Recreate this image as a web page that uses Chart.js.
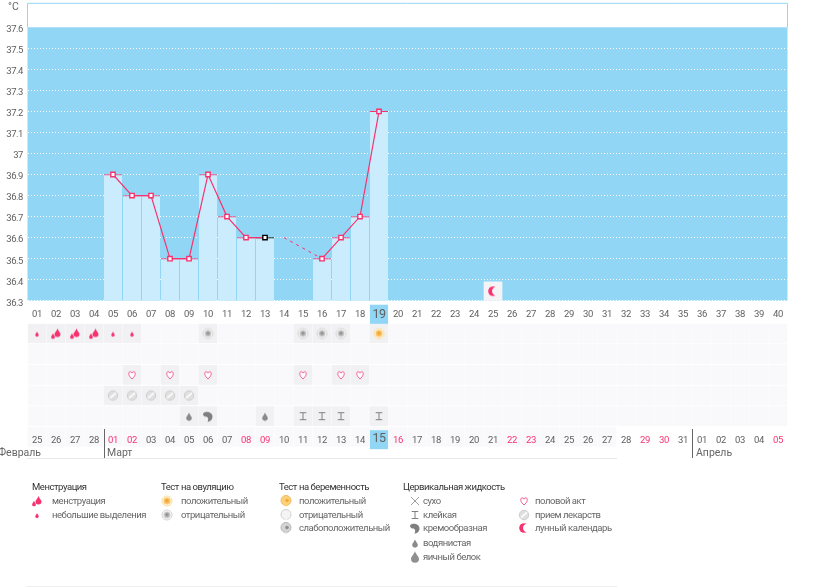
<!DOCTYPE html>
<html lang="ru">
<head>
<meta charset="utf-8">
<title>График температуры</title>
<script src="https://cdn.jsdelivr.net/npm/chart.js@4"></script>
<style>
  html, body { margin: 0; padding: 0; background: #fff; width: 825px; height: 587px; overflow: hidden; }
  body { position: relative; font: 9.5px Roboto, Arial, sans-serif; letter-spacing: -0.45px; color: #666; }
  .box { position: absolute; left: 0; width: 825px; }
  .box canvas { display: block; }
  canvas.ic { position: absolute; }
  .t { position: absolute; white-space: nowrap; line-height: 12px; }
  .h { color: #333; }
  .m { font-size: 10.5px; letter-spacing: 0; line-height: 14px; color: #666; }
  .r { position: absolute; }
</style>
</head>
<body>
<div class="box" style="top:0;height:325px"><canvas id="tempChart" width="825" height="325"></canvas></div>
<div class="box" style="top:320px;height:140px"><canvas id="rowsChart" width="825" height="140"></canvas></div>
<script>
(() => {
  const cycleDays = ["01","02","03","04","05","06","07","08","09","10","11","12","13","14","15","16","17","18","19","20",
    "21","22","23","24","25","26","27","28","29","30","31","32","33","34","35","36","37","38","39","40"];
  const calendarDays = ["25","26","27","28","01","02","03","04","05","06","07","08","09","10","11","12","13","14","15","16",
    "17","18","19","20","21","22","23","24","25","26","27","28","29","30","31","01","02","03","04","05"];
  const weekendColumns = [5, 6, 12, 13, 20, 26, 27, 33, 34, 40];
  const todayColumn = 19;
  const tempTicks = [36.3,36.4,36.5,36.6,36.7,36.8,36.9,37,37.1,37.2,37.3,37.4,37.5,37.6];
  const temperatures = [null,null,null,null,36.9,36.8,36.8,36.5,36.5,36.9,36.7,36.6,36.6,null,null,36.5,36.6,36.7,37.2,null,
    null,null,null,null,null,null,null,null,null,null,null,null,null,null,null,null,null,null,null,null];
  const guessedTemps = [null,null,null,null,null,null,null,null,null,null,null,null,null,36.6,null,36.5];
  const moonCell = [null,null,null,null,null,null,null,null,null,null,null,null,null,null,null,null,null,null,null,null,
    null,null,null,null,36.39];
  const moonMark = [null,null,null,null,null,null,null,null,null,null,null,null,null,null,null,null,null,null,null,null,
    null,null,null,null,36.345];

  const heavyDays = [2, 3, 4];
  const lightDays = [1, 5, 6];
  const ovulationNegDays = [10, 15, 16, 17];
  const ovulationPosDays = [19];
  const intercourseDays = [6, 8, 10, 15, 17, 18];
  const pillDays = [5, 6, 7, 8, 9];
  const wateryDays = [9, 13];
  const creamyDays = [10];
  const stickyDays = [15, 16, 17, 19];

  const PINK = "#f7336f";
  const BLUE = "#91d7f5";
  const BAR = "#cbecfd";
  const FONT = 'Roboto, Arial, sans-serif';

  function drop(c, x, y, r, color) {
    c.fillStyle = color;
    c.beginPath();
    c.moveTo(x, y - r * 1.7);
    c.bezierCurveTo(x + r * 0.4, y - r * 0.7, x + r, y - r * 0.3, x + r, y + r * 0.2);
    c.arc(x, y + r * 0.2, r, 0, Math.PI);
    c.bezierCurveTo(x - r, y - r * 0.3, x - r * 0.4, y - r * 0.7, x, y - r * 1.7);
    c.fill();
  }

  function ring(c, light, outer, center) {
    const g = c.createRadialGradient(8, 7.6, 0.5, 8, 8, 3.8);
    g.addColorStop(0, center);
    g.addColorStop(1, light);
    c.fillStyle = "#fff";
    c.strokeStyle = outer;
    c.lineWidth = 1;
    c.beginPath(); c.arc(8, 8, 5, 0, 7); c.fill(); c.stroke();
    c.fillStyle = g;
    c.beginPath(); c.arc(8, 8, 3.8, 0, 7); c.fill();
  }

  function blob(c, fill, edge, center) {
    c.fillStyle = fill;
    c.strokeStyle = edge;
    c.lineWidth = 1;
    c.beginPath();
    c.arc(8, 7.5, 5, 0, 7);
    c.fill(); c.stroke();
    c.beginPath(); c.moveTo(6, 11.5); c.lineTo(8, 14); c.lineTo(10, 11.5); c.fill();
    if (center) {
      c.fillStyle = center;
      c.beginPath(); c.arc(9, 7.5, 1.8, 0, 7); c.fill();
    }
  }

  const ICONS = {
    heavy(c) { drop(c, 9.5, 8, 3, PINK); drop(c, 5, 11, 1.9, PINK); },
    light(c) { drop(c, 8, 9, 1.8, PINK); },
    ovPos(c) { ring(c, "#fbd98e", "#f8dc98", "#f3a02e"); },
    ovNeg(c) { ring(c, "#e4e4e4", "#d2d2d2", "#8f8f8f"); },
    heart(c) {
      c.strokeStyle = "#f4548a"; c.fillStyle = "#fff"; c.lineWidth = 1;
      c.beginPath();
      c.moveTo(8, 12);
      c.bezierCurveTo(3.6, 8.6, 4.4, 4.6, 6.3, 4.8);
      c.bezierCurveTo(7, 4.9, 7.6, 5.4, 8, 6.2);
      c.bezierCurveTo(8.4, 5.4, 9, 4.9, 9.7, 4.8);
      c.bezierCurveTo(11.6, 4.6, 12.4, 8.6, 8, 12);
      c.fill(); c.stroke();
    },
    pill(c) {
      c.fillStyle = "#e0e0e0"; c.strokeStyle = "#cccccc"; c.lineWidth = 1;
      c.beginPath(); c.arc(8, 8, 4.7, 0, 7); c.fill(); c.stroke();
      c.strokeStyle = "#fff"; c.lineWidth = 1.4;
      c.beginPath(); c.moveTo(5, 10.6); c.lineTo(11, 5.4); c.stroke();
    },
    watery(c) { drop(c, 8, 9.3, 2.8, "#8a8a8a"); },
    egg(c) { drop(c, 8, 9, 4, "#8f8f8f"); },
    creamy(c) {
      c.fillStyle = "#7f7f7f";
      c.beginPath();
      c.moveTo(3, 5.5);
      c.bezierCurveTo(4.5, 2.6, 12.5, 3, 12.5, 8.5);
      c.bezierCurveTo(12.5, 11.5, 10, 13.5, 7.5, 13.5);
      c.bezierCurveTo(8.6, 11.5, 8.4, 9.6, 6.8, 8.6);
      c.bezierCurveTo(4.8, 8.8, 2.8, 7.6, 3, 5.5);
      c.fill();
    },
    sticky(c) {
      c.strokeStyle = "#808080"; c.lineWidth = 1;
      c.beginPath();
      c.moveTo(4.7, 4.5); c.lineTo(11.3, 4.5);
      c.moveTo(8, 4.5); c.lineTo(8, 11.5);
      c.moveTo(4.7, 11.5); c.lineTo(11.3, 11.5);
      c.stroke();
    },
    dry(c) {
      c.strokeStyle = "#888"; c.lineWidth = 0.8;
      c.beginPath();
      c.moveTo(4, 4); c.lineTo(12, 12);
      c.moveTo(12, 4); c.lineTo(4, 12);
      c.stroke();
    },
    moon(c) {
      c.fillStyle = PINK;
      c.beginPath(); c.arc(8, 8, 4.8, 0, 7); c.fill();
      c.globalCompositeOperation = "destination-out";
      c.beginPath(); c.arc(11.2, 8, 4.2, 0, 7); c.fill();
      c.globalCompositeOperation = "source-over";
    },
    pregPos(c) { blob(c, "#fbd27a", "#f3b95c", "#f4a93a"); },
    pregNeg(c) { blob(c, "#f4f4f4", "#cfcfcf"); },
    pregWeak(c) { blob(c, "#d4d4d4", "#b5b5b5", "#8f8f8f"); }
  };

  function icon(name) {
    const cv = document.createElement("canvas");
    cv.width = 16;
    cv.height = 16;
    ICONS[name](cv.getContext("2d"));
    return cv;
  }

  const tempFrame = {
    id: "tempFrame",
    beforeDraw(chart) {
      const { ctx, chartArea: a, scales } = chart;
      const y = scales.y.getPixelForValue(37.6);
      ctx.save();
      ctx.fillStyle = BLUE;
      ctx.fillRect(a.left, y, a.width, a.bottom - y);
      ctx.strokeStyle = BLUE;
      ctx.lineWidth = 1;
      ctx.beginPath();
      ctx.moveTo(a.left, y);
      ctx.lineTo(a.left, a.top);
      ctx.lineTo(a.right, a.top);
      ctx.lineTo(a.right, y);
      ctx.stroke();
      ctx.restore();
    }
  };

  const todayIndex = todayColumn - 1;

  function noScalePadding(s) {
    s.paddingTop = 0;
    s.paddingBottom = 0;
    s.paddingLeft = 0;
    s.paddingRight = 0;
  }

  new Chart(document.getElementById("tempChart"), {
    type: "bar",
    data: {
      labels: cycleDays,
      datasets: [
        {
          type: "line",
          data: temperatures,
          order: 0,
          borderColor: PINK,
          borderWidth: 1.2,
          tension: 0,
          pointStyle: "rect",
          pointRadius: 3.1,
          pointBorderWidth: 1.4,
          pointBackgroundColor: temperatures.map((v, i) => (i === todayIndex ? BAR : "#fff")),
          pointBorderColor: temperatures.map((v, i) => (i === 12 ? "#000" : PINK))
        },
        {
          type: "line",
          data: guessedTemps,
          order: 0,
          spanGaps: true,
          borderColor: PINK,
          borderWidth: 1,
          borderDash: [3, 4],
          pointRadius: 0
        },
        {
          type: "line",
          data: moonMark,
          order: 0,
          showLine: false,
          pointStyle: icon("moon")
        },
        {
          data: temperatures,
          order: 1,
          grouped: false,
          barThickness: 18,
          backgroundColor: BAR,
          borderWidth: { top: 1 },
          borderColor: temperatures.map((v, i) => (i === 12 ? "#000" : PINK))
        },
        {
          data: moonCell,
          order: 2,
          grouped: false,
          barThickness: 18,
          backgroundColor: "#f4f4f7"
        }
      ]
    },
    options: {
      responsive: false,
      animation: false,
      events: [],
      layout: { autoPadding: false, padding: { left: 0, right: 37.5, top: 3.3, bottom: 0 } },
      plugins: { legend: { display: false }, tooltip: { enabled: false } },
      scales: {
        x: {
          offset: true,
          grid: { display: false },
          border: { display: false },
          afterFit(s) { s.height = 24.3; noScalePadding(s); },
          ticks: {
            autoSkip: false,
            maxRotation: 0,
            padding: 0,
            color: "#5f5f5f",
            font: (c) => (c.index === todayIndex
              ? { family: FONT, size: 12.5, lineHeight: "12px" }
              : { family: FONT, size: 9.5, lineHeight: "12px" }),
            showLabelBackdrop: (c) => c.index === todayIndex,
            backdropColor: BLUE,
            backdropPadding: { top: 4, bottom: 4, left: 2.5, right: 2.5 }
          }
        },
        y: {
          min: 36.3,
          max: 37.714,
          afterFit(s) { s.width = 27.5; noScalePadding(s); },
          afterBuildTicks(s) { s.ticks = tempTicks.map((value) => ({ value })); },
          grid: {
            drawTicks: false,
            lineWidth: 1,
            color: (c) => (c.tick && c.tick.value === 37.6 ? "transparent" : "#ffffff")
          },
          border: { display: false, dash: [1, 2] },
          ticks: {
            padding: 4.5,
            labelOffset: 2.5,
            color: "#5f5f5f",
            font: { family: FONT, size: 9.5 },
            callback: (v) => String(v)
          }
        }
      }
    },
    plugins: [tempFrame]
  });

  const ROWS = 5;
  const rowOf = (days, row) => cycleDays.map((d, i) => (days.includes(i + 1) ? row - 0.5 : null));

  const markSets = [
    { days: heavyDays, row: 1, name: "heavy" },
    { days: lightDays, row: 1, name: "light" },
    { days: ovulationNegDays, row: 1, name: "ovNeg" },
    { days: ovulationPosDays, row: 1, name: "ovPos" },
    { days: intercourseDays, row: 3, name: "heart" },
    { days: pillDays, row: 4, name: "pill" },
    { days: wateryDays, row: 5, name: "watery" },
    { days: creamyDays, row: 5, name: "creamy" },
    { days: stickyDays, row: 5, name: "sticky" }
  ];

  const usedInRow = (row, i) => markSets.some((m) => m.row === row && m.days.includes(i + 1));

  const cellSets = [1, 2, 3, 4, 5].map((row) => ({
    data: cycleDays.map(() => [row - 1 + 0.04, row - 0.04]),
    order: 1,
    grouped: false,
    barThickness: 18,
    backgroundColor: cycleDays.map((d, i) => (usedInRow(row, i) ? "#f1f1f3" : "#f9f8fa"))
  }));

  cellSets.push({
    data: cycleDays.map((d, i) => (i < 31 ? [5.04, 5.96] : null)),
    order: 1,
    grouped: false,
    clip: false,
    barThickness: 18,
    backgroundColor: "#f9f8fa"
  });

  new Chart(document.getElementById("rowsChart"), {
    type: "bar",
    data: {
      labels: calendarDays,
      datasets: cellSets.concat(markSets.map((m) => ({
        type: "line",
        data: rowOf(m.days, m.row),
        order: 0,
        showLine: false,
        pointStyle: icon(m.name)
      })))
    },
    options: {
      responsive: false,
      animation: false,
      events: [],
      layout: { autoPadding: false, padding: { left: 27.5, right: 37.5, top: 3.2, bottom: 0 } },
      plugins: { legend: { display: false }, tooltip: { enabled: false } },
      scales: {
        x: {
          offset: true,
          grid: { display: false },
          border: { display: false },
          afterFit(s) { s.height = 33.5; noScalePadding(s); },
          ticks: {
            autoSkip: false,
            maxRotation: 0,
            padding: 0,
            z: 2,
            color: (c) => (weekendColumns.includes(c.index + 1) ? PINK : "#5f5f5f"),
            font: (c) => (c.index === todayIndex
              ? { family: FONT, size: 12.5, lineHeight: "8.8px" }
              : { family: FONT, size: 9.5, lineHeight: "12px" }),
            showLabelBackdrop: (c) => c.index === todayIndex,
            backdropColor: BLUE,
            backdropPadding: { top: 4.3, bottom: 5.9, left: 2.5, right: 2.5 }
          }
        },
        y: { display: false, reverse: true, min: 0, max: ROWS }
      }
    }
  });

  // legend and month captions are plain page text
  const monthLabels = [["Февраль", -2], ["Март", 107], ["Апрель", 696]];
  const monthRules = [103.5, 692];
  const legendTitles = [["Менструация", 32], ["Тест на овуляцию", 161], ["Тест на беременность", 279], ["Цервикальная жидкость", 403]];
  const legendRows = [
    ["heavy", 37, 52, 501, "менструация"],
    ["light", 37, 52, 515, "небольшие выделения"],
    ["ovPos", 167, 181, 501, "положительный"],
    ["ovNeg", 167, 181, 515, "отрицательный"],
    ["pregPos", 286, 299, 501, "положительный"],
    ["pregNeg", 286, 299, 515, "отрицательный"],
    ["pregWeak", 286, 299, 528, "слабоположительный"],
    ["dry", 415, 423, 501, "сухо"],
    ["sticky", 415, 423, 515, "клейкая"],
    ["creamy", 415, 423, 528, "кремообразная"],
    ["watery", 415, 423, 543, "водянистая"],
    ["egg", 415, 423, 557, "яичный белок"],
    ["heart", 524, 535, 501, "половой акт"],
    ["pill", 524, 535, 515, "прием лекарств"],
    ["moon", 524, 535, 528, "лунный календарь"]
  ];

  function addText(text, x, y, cls) {
    const el = document.createElement("div");
    el.className = cls;
    el.textContent = text;
    el.style.left = x + "px";
    el.style.top = y + "px";
    document.body.appendChild(el);
  }

  function addRule(x, y, w, h, color) {
    const el = document.createElement("div");
    el.className = "r";
    el.style.cssText = `left:${x}px;top:${y}px;width:${w}px;height:${h}px;background:${color}`;
    document.body.appendChild(el);
  }

  addText("°C", 8, 0, "t m");
  monthLabels.forEach(([text, x]) => addText(text, x, 446, "t m"));
  monthRules.forEach((x) => addRule(x, 429, 1, 29, "#666"));
  addRule(27, 458, 590, 1, "#e8e8e8");
  addRule(27, 586, 590, 1, "#eeeeee");

  legendTitles.forEach(([text, x]) => addText(text, x, 481, "t h"));
  legendRows.forEach(([name, ix, tx, y, text]) => {
    const cv = icon(name);
    cv.className = "ic";
    cv.style.left = ix - 8 + "px";
    cv.style.top = y - 8 + "px";
    document.body.appendChild(cv);
    addText(text, tx, y - 6, "t");
  });
})();
</script>
</body>
</html>
